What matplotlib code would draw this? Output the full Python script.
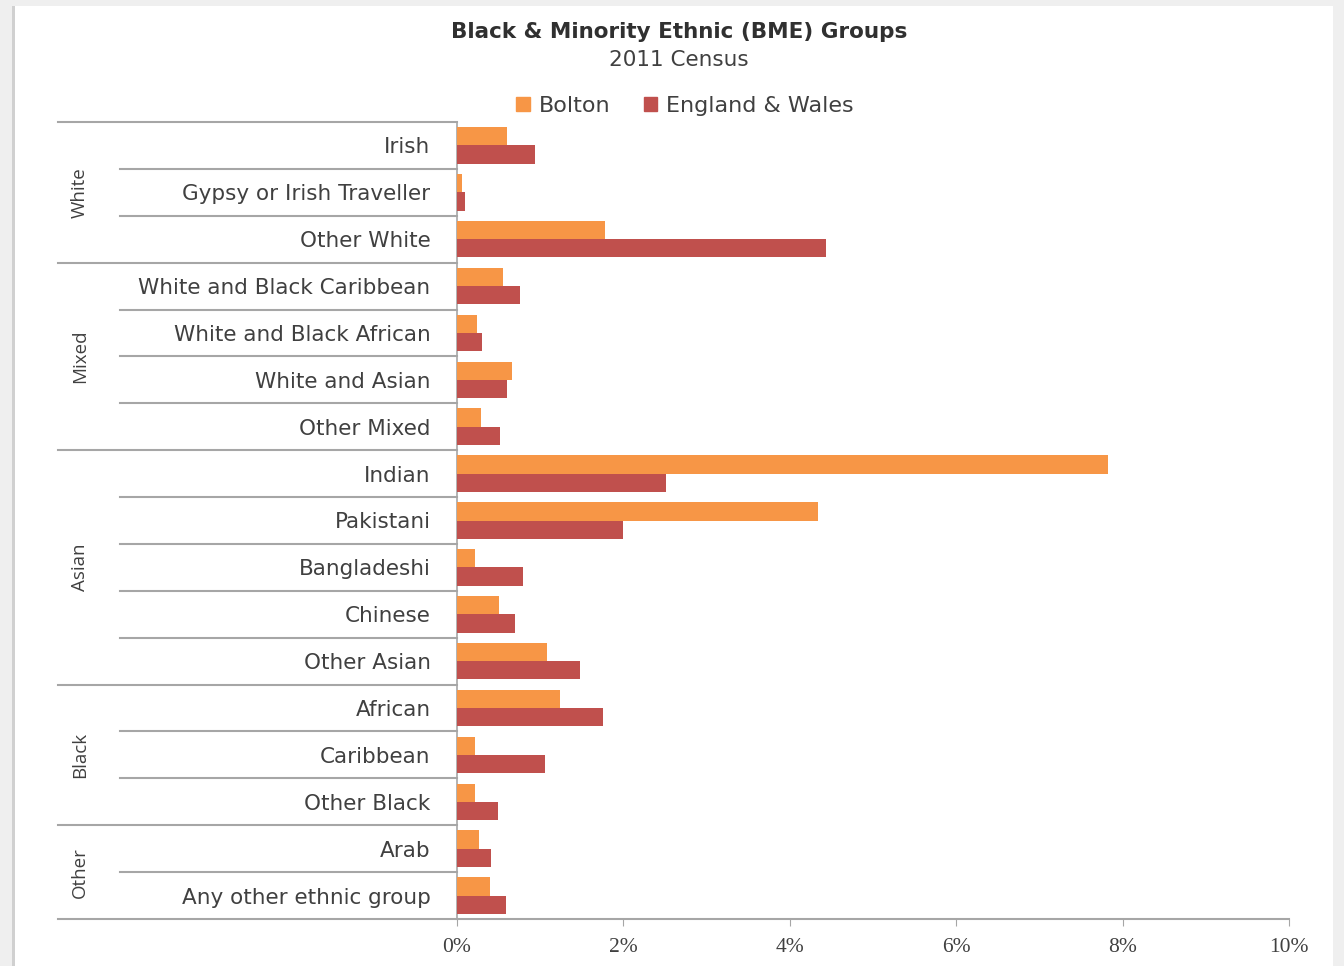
import matplotlib
matplotlib.use("Agg")
import matplotlib.pyplot as plt
from matplotlib.patches import Rectangle, Patch
from matplotlib.transforms import blended_transform_factory
import numpy as np

# data (percent of population)
categories = ["Irish", "Gypsy or Irish Traveller", "Other White",
              "White and Black Caribbean", "White and Black African", "White and Asian", "Other Mixed",
              "Indian", "Pakistani", "Bangladeshi", "Chinese", "Other Asian",
              "African", "Caribbean", "Other Black",
              "Arab", "Any other ethnic group"]
bolton = [0.60, 0.06, 1.78, 0.55, 0.24, 0.66, 0.29, 7.82, 4.34, 0.22, 0.50, 1.08, 1.24, 0.22, 0.22, 0.26, 0.40]
england_wales = [0.94, 0.10, 4.43, 0.76, 0.30, 0.60, 0.52, 2.51, 2.00, 0.79, 0.70, 1.48, 1.75, 1.06, 0.49, 0.41, 0.59]
groups = ["White", "Mixed", "Asian", "Black", "Other"]
group_sizes = [3, 4, 5, 3, 2]
xticks = [0, 2, 4, 6, 8, 10]

c_bolton = "#F79646"
c_ew = "#C0504D"
grey = "#a6a6a6"
txt = "#404040"
sans = "DejaVu Sans"

fig = plt.figure(figsize=(13.44, 9.66), dpi=100)
fig.patch.set_facecolor("#efefef")
fig.patches.append(Rectangle((15 / 1344, 0), 1318 / 1344, 960 / 966, transform=fig.transFigure,
                             facecolor="white", edgecolor="none", zorder=-2))
fig.patches.append(Rectangle((12 / 1344, 0), 3 / 1344, 960 / 966, transform=fig.transFigure,
                             facecolor="#d0d0d0", edgecolor="none", zorder=-2))

ax = fig.add_axes([457 / 1344, 47 / 966, 832 / 1344, 797 / 966])
ax.set_facecolor("none")

y = np.arange(len(categories))
h = 0.39
ax.barh(y - h / 2, bolton, height=h, color=c_bolton, label="Bolton", zorder=3)
ax.barh(y + h / 2, england_wales, height=h, color=c_ew, label="England & Wales", zorder=3)

ax.set_xlim(0, 10)
ax.set_ylim(len(categories) - 0.5, -0.5)
ax.set_xticks(xticks)
ax.set_xticklabels([f"{t}%" for t in xticks], family="Liberation Serif", fontsize=15.5, color=txt)
ax.tick_params(axis="x", length=5, color=grey, pad=9)
ax.set_yticks(y)
ax.set_yticklabels(categories, family=sans, fontsize=15.5, color=txt)
ax.tick_params(axis="y", length=0, pad=19)

for s in ["top", "right"]:
    ax.spines[s].set_visible(False)
ax.spines["left"].set_color(grey)
ax.spines["bottom"].set_color(grey)
ax.spines["left"].set_linewidth(1.2)
ax.spines["bottom"].set_linewidth(1.5)

# separator lines for the category axis
tr = blended_transform_factory(ax.transAxes, ax.transData)
x_long = (58 - 457) / 832
x_short = (120 - 457) / 832
bounds = np.cumsum([0] + group_sizes)
for k in range(len(categories) + 1):
    yy = k - 0.5
    x0 = x_long if k in bounds else x_short
    ax.plot([x0, 0], [yy, yy], transform=tr, color=grey, lw=1.5, clip_on=False, zorder=1)

# group labels
for g, a, b in zip(groups, bounds[:-1], bounds[1:]):
    ax.text((80 - 457) / 832, (a + b - 1) / 2, g, transform=tr, rotation=90,
            ha="center", va="center", family="Open Sans", fontsize=13.5, color=txt)

fig.text(679 / 1344, 1 - 32 / 966, "Black & Minority Ethnic (BME) Groups", ha="center", va="center",
         family=sans, fontsize=15.5, fontweight="bold", color="#303030")
fig.text(679 / 1344, 1 - 60 / 966, "2011 Census", ha="center", va="center",
         family=sans, fontsize=15.5, color=txt)

handles = [Patch(color=c_bolton, label="Bolton"), Patch(color=c_ew, label="England & Wales")]
fig.legend(handles=handles, loc="center", bbox_to_anchor=(685 / 1344, 1 - 106 / 966), ncol=2,
           frameon=False, prop={"family": sans, "size": 16}, labelcolor=txt,
           handlelength=0.6, handleheight=0.6, handletextpad=0.4, columnspacing=1.5)

fig.savefig("out.png", dpi=100, facecolor=fig.get_facecolor())
